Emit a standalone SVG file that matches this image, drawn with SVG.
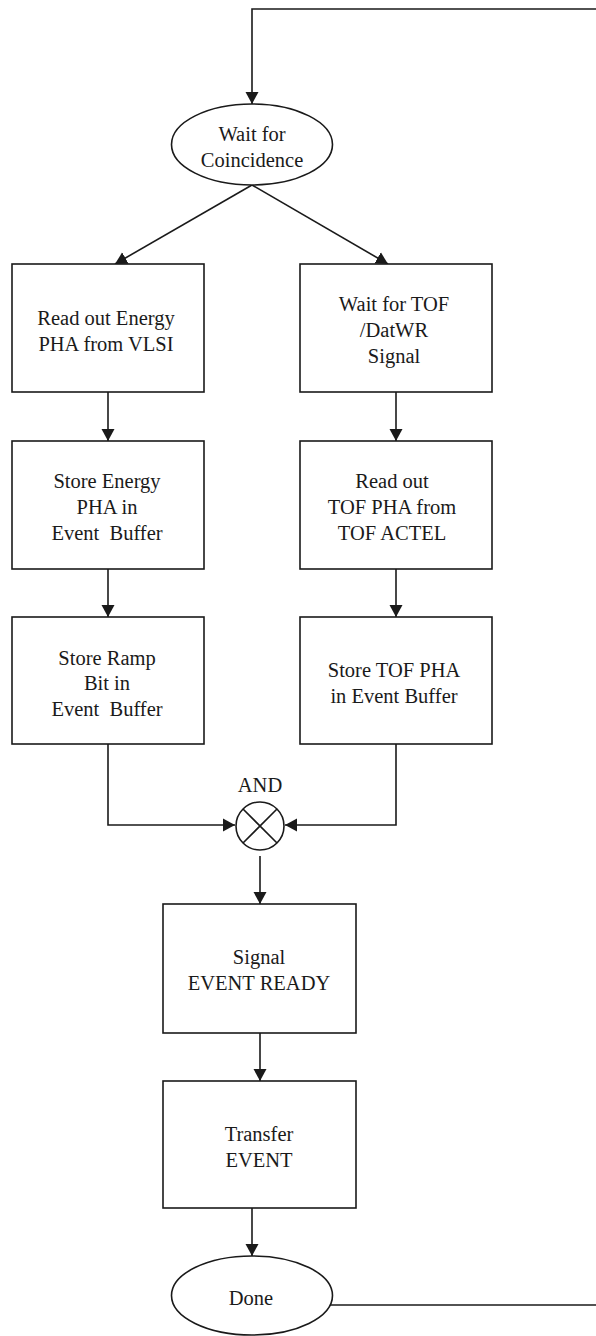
<svg xmlns="http://www.w3.org/2000/svg" width="596" height="1336" viewBox="0 0 596 1336">
<style>
.n{fill:#fff;stroke:#1a1a1a;stroke-width:1.6}
.c{fill:none;stroke:#1a1a1a;stroke-width:1.6}
</style>
<defs>
<marker id="a" markerWidth="14" markerHeight="14" refX="12" refY="7" orient="auto" markerUnits="userSpaceOnUse">
<path d="M0,0.5 L12,7 L0,13.5 Z" fill="#1a1a1a"/>
</marker>
</defs>
<rect width="596" height="1336" fill="#fff"/>
<g id="connectors">
<path class="c" d="M596,9 H252 V104" marker-end="url(#a)"/>
<path class="c" d="M252,185 L115,264" marker-end="url(#a)"/>
<path class="c" d="M252,185 L388,264" marker-end="url(#a)"/>
<path class="c" d="M108,392 V441" marker-end="url(#a)"/>
<path class="c" d="M108,569 V617" marker-end="url(#a)"/>
<path class="c" d="M396,392 V441" marker-end="url(#a)"/>
<path class="c" d="M396,569 V617" marker-end="url(#a)"/>
<path class="c" d="M108,744 V825 H235" marker-end="url(#a)"/>
<path class="c" d="M396,744 V825 H285" marker-end="url(#a)"/>
<path class="c" d="M260,856 V904" marker-end="url(#a)"/>
<path class="c" d="M260,1033 V1081" marker-end="url(#a)"/>
<path class="c" d="M252,1208 V1256" marker-end="url(#a)"/>
<path class="c" d="M330,1305 H596"/>
</g>
<g id="nodes" font-family="Liberation Serif, Times New Roman, serif" font-size="20.5" fill="#1a1a1a" text-anchor="middle">
<g id="wait-coincidence">
<ellipse class="n" cx="252" cy="144.5" rx="80.5" ry="40.5"/>
<text x="252" y="141">Wait for</text>
<text x="252" y="167">Coincidence</text>
</g>
<g id="read-energy">
<rect class="n" x="12" y="264" width="192" height="128"/>
<text x="106" y="325">Read out Energy</text>
<text x="106" y="351">PHA from VLSI</text>
</g>
<g id="wait-tof">
<rect class="n" x="300" y="264" width="192" height="128"/>
<text x="394" y="311">Wait for TOF</text>
<text x="394" y="337">/DatWR</text>
<text x="394" y="363">Signal</text>
</g>
<g id="store-energy">
<rect class="n" x="12" y="441" width="192" height="128"/>
<text x="107" y="488">Store Energy</text>
<text x="107" y="514">PHA in</text>
<text x="107" y="540" xml:space="preserve">Event  Buffer</text>
</g>
<g id="read-tof">
<rect class="n" x="300" y="441" width="192" height="128"/>
<text x="392" y="488">Read out</text>
<text x="392" y="514">TOF PHA from</text>
<text x="392" y="540">TOF ACTEL</text>
</g>
<g id="store-ramp">
<rect class="n" x="12" y="617" width="192" height="127"/>
<text x="107" y="665">Store Ramp</text>
<text x="107" y="690">Bit in</text>
<text x="107" y="716" xml:space="preserve">Event  Buffer</text>
</g>
<g id="store-tof">
<rect class="n" x="300" y="617" width="192" height="127"/>
<text x="394" y="677">Store TOF PHA</text>
<text x="394" y="703">in Event Buffer</text>
</g>
<g id="and">
<text x="260" y="792">AND</text>
<circle class="n" cx="260" cy="826" r="24"/>
<path class="c" d="M243,809 L277,843 M277,809 L243,843"/>
</g>
<g id="signal-ready">
<rect class="n" x="163" y="904" width="193" height="129"/>
<text x="259" y="964">Signal</text>
<text x="259" y="990">EVENT READY</text>
</g>
<g id="transfer">
<rect class="n" x="163" y="1081" width="193" height="127"/>
<text x="259" y="1141">Transfer</text>
<text x="259" y="1167">EVENT</text>
</g>
<g id="done">
<ellipse class="n" cx="252" cy="1295.5" rx="80.5" ry="39.5"/>
<text x="251" y="1305">Done</text>
</g>
</g>
</svg>
